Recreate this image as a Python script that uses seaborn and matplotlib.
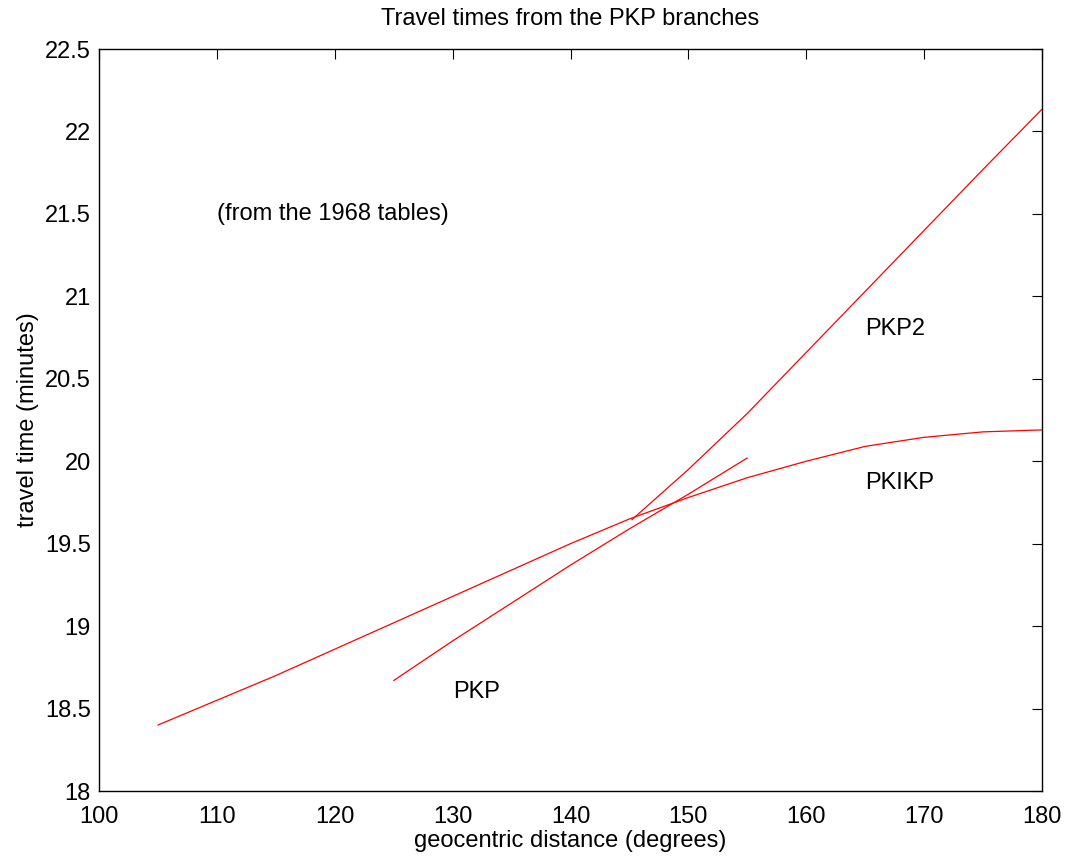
import matplotlib
matplotlib.use("Agg")
import matplotlib.pyplot as plt
import seaborn as sns
import pandas as pd

# Data
pkikp_dist = [105, 115, 120, 125, 130, 135, 140, 145, 150, 155, 160, 165, 170, 175, 180]
pkikp_time = [18.40, 18.70, 18.86, 19.02, 19.18, 19.34, 19.50, 19.65, 19.78, 19.90, 20.00, 20.09, 20.145, 20.178, 20.19]

pkp_dist = [125, 130, 135, 140, 145, 150, 155]
pkp_time = [18.67, 18.91, 19.14, 19.37, 19.59, 19.80, 20.02]

pkp2_dist = [145.2, 150, 155, 160, 165, 170, 175, 180]
pkp2_time = [19.645, 19.95, 20.29, 20.66, 21.03, 21.40, 21.77, 22.135]

labels = ["PKIKP", "PKP", "PKP2"]
label_pos_x = [165, 130, 165]
label_pos_y = [19.87, 18.6, 20.8]
note_text = "(from the 1968 tables)"
note_x, note_y = 110, 21.5

title = "Travel times from the PKP branches"
xlabel = "geocentric distance (degrees)"
ylabel = "travel time (minutes)"
xticks = [100, 110, 120, 130, 140, 150, 160, 170, 180]
yticks = [18, 18.5, 19, 19.5, 20, 20.5, 21, 21.5, 22, 22.5]
ytick_labels = ["18", "18.5", "19", "19.5", "20", "20.5", "21", "21.5", "22", "22.5"]

sns.set_style("white")
plt.rcParams['font.family'] = ['Liberation Sans', 'DejaVu Sans']
plt.rcParams['text.color'] = 'black'
plt.rcParams['axes.labelcolor'] = 'black'
FS = 17

fig = plt.figure(figsize=(10.69, 8.59), dpi=100)
ax = fig.add_axes([99/1069, 1 - 791/859, (1042-99)/1069, (791-49)/859])

for d, t in [(pkikp_dist, pkikp_time), (pkp_dist, pkp_time), (pkp2_dist, pkp2_time)]:
    df = pd.DataFrame({"dist": d, "time": t})
    sns.lineplot(data=df, x="dist", y="time", color="red", linewidth=0.9, ax=ax, sort=False)

for lab, lx, ly in zip(labels, label_pos_x, label_pos_y):
    ax.text(lx, ly, lab, fontsize=FS, ha="left", va="center", color="black")
ax.text(note_x, note_y, note_text, fontsize=FS, ha="left", va="center", color="black")

ax.set_xlim(100, 180)
ax.set_ylim(18, 22.5)
ax.set_xticks(xticks)
ax.set_xticklabels([str(v) for v in xticks])
ax.set_yticks(yticks)
ax.set_yticklabels(ytick_labels)
ax.tick_params(direction="in", length=7, width=0.8, top=True, right=True,
               labelsize=FS, colors="black")
ax.tick_params(axis="x", pad=11)
ax.tick_params(axis="y", pad=6)
for s in ax.spines.values():
    s.set_color("black")
    s.set_linewidth(1.0)
ax.set_title(title, fontsize=FS, pad=17, color="black")
ax.set_xlabel(xlabel, fontsize=FS, labelpad=1, color="black")
ax.set_ylabel(ylabel, fontsize=FS, labelpad=4, color="black")

fig.savefig("out.png", dpi=100)
